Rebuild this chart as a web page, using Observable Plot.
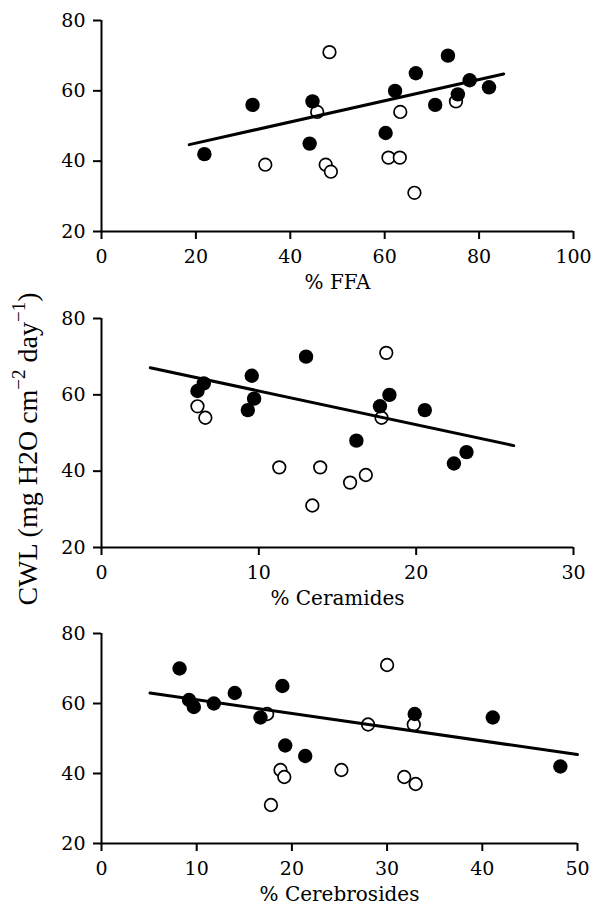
<!DOCTYPE html>
<html>
<head>
<meta charset="utf-8">
<script src="https://cdn.jsdelivr.net/npm/d3@7"></script>
<script src="https://cdn.jsdelivr.net/npm/@observablehq/plot@0.6"></script>
<style>
  body { margin: 0; background: #fff; }
  #wrap { position: relative; width: 592px; height: 911px; font-family: "Liberation Serif", serif; background: #fff; overflow: hidden; }
  #wrap svg { display: block; overflow: visible; }
  #ylabel {
    position: absolute; width: 440px; height: 36px; line-height: 36px;
    left: -192px; top: 431px; text-align: center; white-space: nowrap;
    font-size: 28px; color: #000; transform: rotate(-90deg); transform-origin: 50% 50%;
  }
  #ylabel .sup { font-size: 19px; position: relative; top: -12px; }
</style>
</head>
<body>
<div id="wrap"></div>
<script>
// ---- data ----
const yTicks = [20, 40, 60, 80];

// Panel 1: % FFA
const ffaTicks = [0, 20, 40, 60, 80, 100];
const ffaFilledX = [21.8, 32.0, 44.7, 44.1, 60.2, 62.2, 66.6, 70.7, 73.4, 75.5, 78.0, 82.1];
const ffaFilledY = [42, 56, 57, 45, 48, 60, 65, 56, 70, 59, 63, 61];
const ffaOpenX = [34.7, 48.3, 45.7, 47.5, 48.6, 60.8, 63.2, 63.3, 66.3, 75.1];
const ffaOpenY = [39, 71, 54, 39, 37, 41, 41, 54, 31, 57];
const ffaLineX = [18.6, 85.2];
const ffaLineY = [44.7, 64.8];

// Panel 2: % Ceramides
const cerTicks = [0, 10, 20, 30];
const cerFilledX = [13.0, 9.55, 6.5, 6.1, 9.7, 9.3, 18.3, 17.7, 20.55, 16.2, 22.4, 23.2];
const cerFilledY = [70, 65, 63, 61, 59, 56, 60, 57, 56, 48, 42, 45];
const cerOpenX = [18.1, 6.1, 6.6, 17.8, 11.3, 13.9, 16.8, 15.8, 13.4];
const cerOpenY = [71, 57, 54, 54, 41, 41, 39, 37, 31];
const cerLineX = [3.1, 26.2];
const cerLineY = [67.1, 46.7];

// Panel 3: % Cerebrosides
const cbrTicks = [0, 10, 20, 30, 40, 50];
const cbrFilledX = [8.2, 19.0, 14.0, 9.2, 11.8, 9.7, 16.7, 32.9, 41.1, 19.3, 21.4, 48.2];
const cbrFilledY = [70, 65, 63, 61, 60, 59, 56, 57, 56, 48, 45, 42];
const cbrOpenX = [30.0, 17.4, 28.0, 32.8, 18.8, 25.2, 19.2, 31.8, 33.0, 17.8];
const cbrOpenY = [71, 57, 54, 54, 41, 41, 39, 39, 37, 31];
const cbrLineX = [5.1, 50.0];
const cbrLineY = [63.0, 45.4];

const rows = (xs, ys) => xs.map((x, i) => ({x, y: ys[i]}));
const FONT = "DejaVu Serif";

function panel({ticks, filled, open, line, label, height, marginTop, marginBottom, marginRight}) {
  const xDomain = [ticks[0], ticks[ticks.length - 1]];
  return Plot.plot({
    width: 592,
    height,
    marginLeft: 101,
    marginRight,
    marginTop,
    marginBottom,
    style: {fontFamily: FONT, fontSize: "19px", background: "white", color: "black", overflow: "visible"},
    x: {domain: xDomain},
    y: {domain: [20, 80]},
    marks: [
      Plot.axisX({ticks, tickSize: 8, tickPadding: 10, strokeWidth: 2, label: null, fontSize: 19, fontFamily: FONT}),
      Plot.axisY({ticks: yTicks, tickSize: 8, tickPadding: 8, strokeWidth: 2, label: null, fontSize: 19, fontFamily: FONT}),
      Plot.ruleX([xDomain[0]], {y1: 20, y2: 80, strokeWidth: 2}),
      Plot.ruleY([20], {x1: xDomain[0], x2: xDomain[1], strokeWidth: 2}),
      Plot.dot(open, {x: "x", y: "y", r: 6.3, stroke: "black", strokeWidth: 1.7, fill: "white"}),
      Plot.line(line, {x: "x", y: "y", stroke: "black", strokeWidth: 3}),
      Plot.dot(filled, {x: "x", y: "y", r: 7.2, fill: "black", stroke: "none"}),
      Plot.text([label], {text: d => d, frameAnchor: "bottom", dy: 57, fontSize: 20, fontFamily: FONT, fill: "black"})
    ]
  });
}

const wrap = document.getElementById("wrap");

wrap.append(panel({
  ticks: ffaTicks,
  filled: rows(ffaFilledX, ffaFilledY),
  open: rows(ffaOpenX, ffaOpenY),
  line: rows(ffaLineX, ffaLineY),
  label: "% FFA",
  height: 300, marginTop: 20, marginBottom: 69, marginRight: 19
}));

wrap.append(panel({
  ticks: cerTicks,
  filled: rows(cerFilledX, cerFilledY),
  open: rows(cerOpenX, cerOpenY),
  line: rows(cerLineX, cerLineY),
  label: "% Ceramides",
  height: 315, marginTop: 18, marginBottom: 68, marginRight: 19
}));

wrap.append(panel({
  ticks: cbrTicks,
  filled: rows(cbrFilledX, cbrFilledY),
  open: rows(cbrOpenX, cbrOpenY),
  line: rows(cbrLineX, cbrLineY),
  label: "% Cerebrosides",
  height: 296, marginTop: 18, marginBottom: 68, marginRight: 15
}));

const yl = document.createElement("div");
yl.id = "ylabel";
yl.innerHTML = 'CWL (mg H2O cm<span class="sup">−2</span> day<span class="sup">−1</span>)';
wrap.append(yl);
</script>
</body>
</html>
